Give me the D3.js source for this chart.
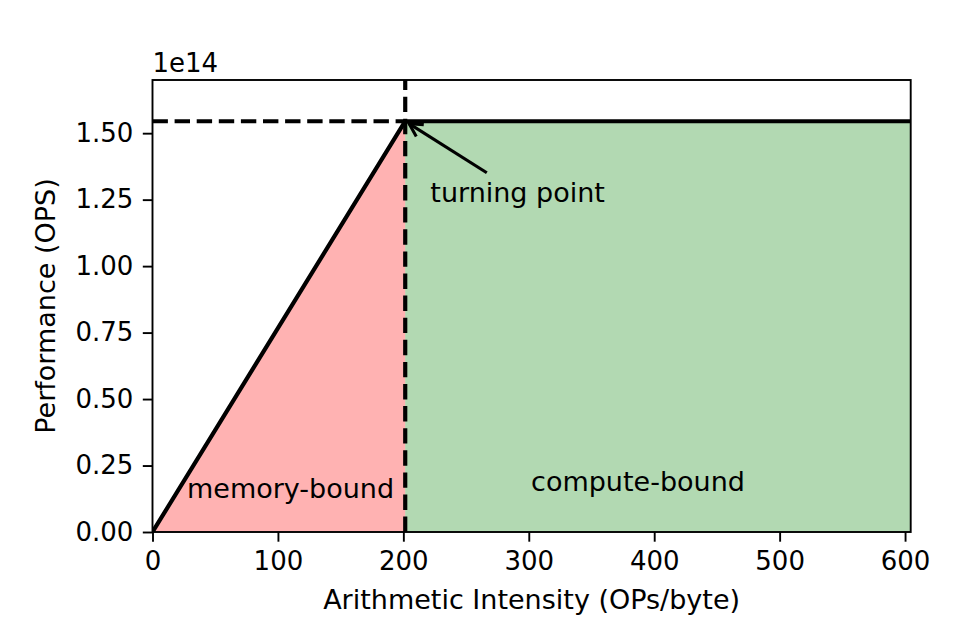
<!DOCTYPE html>
<html>
<head>
<meta charset="utf-8">
<script src="https://cdn.jsdelivr.net/npm/d3@7"></script>
<style>
  html, body { margin: 0; padding: 0; background: #fff; }
  svg { display: block; }
  text { font-family: "DejaVu Sans", sans-serif; fill: #000; }
</style>
</head>
<body>
<svg id="chart" width="960" height="640"></svg>
<script>
// ---- data ----
const peakPerf = 1.545e14;          // OPS
const turningPoint = 201.5;         // OPs/byte
const xMax = 604.5;
const yMax = 1.7e14;
const roofX = [0, turningPoint, xMax];
const roofY = [0, peakPerf, peakPerf];
const xTicks = [0, 100, 200, 300, 400, 500, 600];
const yTicks = [0, 0.25e14, 0.5e14, 0.75e14, 1.0e14, 1.25e14, 1.5e14];
const yTickLabels = ["0.00", "0.25", "0.50", "0.75", "1.00", "1.25", "1.50"];
const regionLabels = [
  { text: "memory-bound", x: 27.5, y: 0.128e14 },
  { text: "compute-bound", x: 301.8, y: 0.154e14 }
];
const annotation = { text: "turning point", x: turningPoint + 20, y: 1.242e14 };

// ---- layout ----
const fsTick = 26;
const fsLabel = 27;
const M = { left: 152.5, right: 910.7, top: 80, bottom: 532 };
const svg = d3.select("#chart");
const x = d3.scaleLinear().domain([0, xMax]).range([M.left, M.right]);
const y = d3.scaleLinear().domain([0, yMax]).range([M.bottom, M.top]);

const clipId = "plotclip";
svg.append("defs").append("clipPath").attr("id", clipId)
  .append("rect").attr("x", M.left).attr("y", M.top)
  .attr("width", M.right - M.left).attr("height", M.bottom - M.top);

const plot = svg.append("g").attr("clip-path", `url(#${clipId})`);
const line = d3.line().x(d => x(d[0])).y(d => y(d[1]));

// fills
plot.append("path")
  .attr("d", line([[0, 0], [turningPoint, peakPerf], [turningPoint, 0]]) + "Z")
  .attr("fill", "rgb(255,0,0)").attr("fill-opacity", 0.3);
plot.append("path")
  .attr("d", line([[turningPoint, 0], [turningPoint, peakPerf], [xMax, peakPerf], [xMax, 0]]) + "Z")
  .attr("fill", "rgb(0,128,0)").attr("fill-opacity", 0.3);

// roofline
plot.append("path")
  .attr("d", line(roofX.map((v, i) => [v, roofY[i]])))
  .attr("fill", "none").attr("stroke", "#000").attr("stroke-width", 4.17)
  .attr("stroke-linejoin", "round");

// dashed guides
plot.append("line")
  .attr("x1", x(0)).attr("x2", x(turningPoint))
  .attr("y1", y(peakPerf)).attr("y2", y(peakPerf))
  .attr("stroke", "#000").attr("stroke-width", 4.17)
  .attr("stroke-dasharray", "15.4,6.7");
svg.append("line")
  .attr("x1", x(turningPoint)).attr("x2", x(turningPoint))
  .attr("y1", y(0)).attr("y2", y(yMax))
  .attr("stroke", "#000").attr("stroke-width", 4.17)
  .attr("stroke-dasharray", "15.4,6.7");

// region labels
regionLabels.forEach(r => {
  svg.append("text").attr("x", x(r.x)).attr("y", y(r.y))
    .attr("font-size", fsLabel).text(r.text);
});

// annotation
const at = svg.append("text").attr("x", x(annotation.x)).attr("y", y(annotation.y))
  .attr("font-size", fsLabel).text(annotation.text);
const bb = at.node().getBBox();
const cx = bb.x + bb.width / 2, cy = bb.y + bb.height / 2;
const tx = x(turningPoint), ty = y(peakPerf);
const dx = tx - cx, dy = ty - cy;
const len = Math.hypot(dx, dy);
const ux = dx / len, uy = dy / len;
const tEdge = Math.min(Math.abs((bb.width / 2 + 4) / ux), Math.abs((bb.height / 2 + 4) / uy));
const sx = cx + ux * tEdge, sy = cy + uy * tEdge;
const ex = tx - ux * 4.5, ey = ty - uy * 4.5;
svg.append("line").attr("x1", sx).attr("y1", sy).attr("x2", ex).attr("y2", ey)
  .attr("stroke", "#000").attr("stroke-width", 3.1);
const hl = 13, hw = 7;
const bx = ex - ux * hl, by = ey - uy * hl;
svg.append("path")
  .attr("d", `M${bx - uy * hw},${by + ux * hw} L${ex},${ey} L${bx + uy * hw},${by - ux * hw}`)
  .attr("fill", "none").attr("stroke", "#000").attr("stroke-width", 3.1)
  .attr("stroke-linejoin", "miter");

// axes
const tickLen = 9.7, tickPad = 9.5;
const xAxis = d3.axisBottom(x).tickValues(xTicks).tickSize(tickLen).tickPadding(tickPad).tickFormat(d3.format("d"));
const gx = svg.append("g").attr("transform", `translate(0,${M.bottom})`).call(xAxis);
gx.select(".domain").remove();
gx.selectAll(".tick line").attr("stroke", "#000").attr("stroke-width", 1.9);
gx.selectAll(".tick text").attr("font-size", fsTick).attr("font-family", "DejaVu Sans").attr("fill", "#000");

const yAxis = d3.axisLeft(y).tickValues(yTicks).tickSize(tickLen).tickPadding(tickPad)
  .tickFormat((d, i) => yTickLabels[i]);
const gy = svg.append("g").attr("transform", `translate(${M.left},0)`).call(yAxis);
gy.select(".domain").remove();
gy.selectAll(".tick line").attr("stroke", "#000").attr("stroke-width", 1.9);
gy.selectAll(".tick text").attr("font-size", fsTick).attr("font-family", "DejaVu Sans").attr("fill", "#000");

// frame
svg.append("rect").attr("x", M.left).attr("y", M.top)
  .attr("width", M.right - M.left).attr("height", M.bottom - M.top)
  .attr("fill", "none").attr("stroke", "#000").attr("stroke-width", 1.9);

// offset text
svg.append("text").attr("x", M.left).attr("y", 72).attr("font-size", fsTick).text("1e14");

// axis labels
svg.append("text").attr("x", (M.left + M.right) / 2).attr("y", 609)
  .attr("text-anchor", "middle").attr("font-size", fsLabel)
  .text("Arithmetic Intensity (OPs/byte)");
svg.append("text")
  .attr("transform", `translate(55,${(M.top + M.bottom) / 2}) rotate(-90)`)
  .attr("text-anchor", "middle").attr("font-size", fsLabel)
  .text("Performance (OPS)");
</script>
</body>
</html>
